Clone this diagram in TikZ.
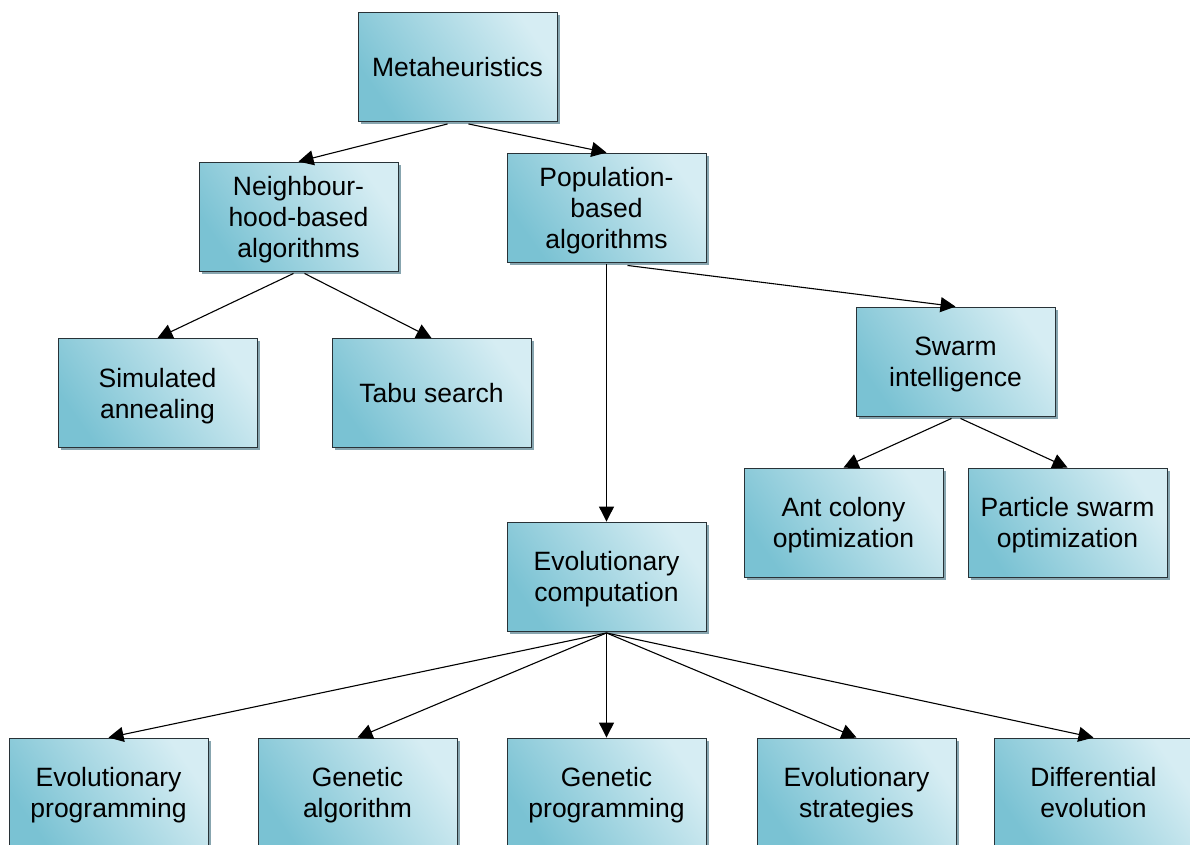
\documentclass[tikz,border=0pt]{standalone}
\usepackage{fontspec}
\setmainfont{Liberation Sans}
\usetikzlibrary{arrows.meta,shadows}
\definecolor{boxdark}{RGB}{122,194,211}
\definecolor{boxlight}{RGB}{214,237,243}
\definecolor{boxedge}{RGB}{40,50,55}
\definecolor{shadowc}{RGB}{135,165,175}
\tikzset{
  box/.style={
    draw=boxedge, line width=0.9pt,
    minimum width=199pt, minimum height=109pt,
    inner sep=0pt, align=center,
    top color=boxlight, bottom color=boxdark, shading angle=-55,
    general shadow={shadow xshift=2.5pt, shadow yshift=-2.5pt, fill=shadowc},
    font=\fontsize{26.5}{31}\selectfont,
    text depth=5.5pt
  },
  % fixed text heights for one, two and three lines of label
  one/.style={text height=25pt},
  two/.style={text height=56pt},
  three/.style={text height=87pt},
  link/.style={draw=black, line width=1.1pt,
    -{Triangle[length=15pt,width=15pt]}}
}
\begin{document}
\begin{tikzpicture}[x=1pt,y=-1pt]
\useasboundingbox (0,0) rectangle (1190,844);
\clip (0,0) rectangle (1190,844);
\fill[white] (0,0) rectangle (1190,844);

% hierarchy of boxes
\node[box,one]   (meta)  at (457.5,67)    {Metaheuristics};
\node[box,three] (nbh)   at (298.5,216.5) {Neighbour-\\hood-based\\algorithms};
\node[box,three] (pop)   at (606.5,207.5) {Population-\\based\\algorithms};
\node[box,two]   (sa)    at (157.5,393)   {Simulated\\annealing};
\node[box,one]   (tabu)  at (431.5,393)   {Tabu search};
\node[box,two]   (swarm) at (955.5,361.5) {Swarm\\intelligence};
\node[box,two]   (aco)   at (843.5,522.5) {Ant colony\\optimization};
\node[box,two]   (pso)   at (1067.5,522.5) {Particle swarm\\optimization};
\node[box,two]   (ec)    at (606.5,576.5) {Evolutionary\\computation};
\node[box,two]   (ep)    at (108.5,792.5) {Evolutionary\\programming};
\node[box,two]   (ga)    at (357.5,792.5) {Genetic\\algorithm};
\node[box,two]   (gp)    at (606.5,792.5) {Genetic\\programming};
\node[box,two]   (es)    at (856.5,792.5) {Evolutionary\\strategies};
\node[box,two]   (de)    at (1093.5,792.5) {Differential\\evolution};

% connectors
\draw[link] ([xshift=-10pt,yshift=-2pt]meta.south) -- (nbh.north);
\draw[link] ([xshift=11pt,yshift=-2pt]meta.south) -- (pop.north);
\draw[link] ([xshift=-5pt,yshift=-2pt]nbh.south) -- (sa.north);
\draw[link] ([xshift=6pt,yshift=-2pt]nbh.south) -- (tabu.north);
\draw[link] ([yshift=-2pt]pop.south) -- (ec.north);
\draw[link] ([xshift=21pt,yshift=-3pt]pop.south) -- (swarm.north);
\draw[link] ([xshift=-4pt,yshift=-2pt]swarm.south) -- (aco.north);
\draw[link] ([xshift=5pt,yshift=-2pt]swarm.south) -- (pso.north);
\foreach \t in {ep,ga,gp,es,de}
  \draw[link] ([yshift=-1.5pt]ec.south) -- (\t.north);
\end{tikzpicture}
\end{document}
